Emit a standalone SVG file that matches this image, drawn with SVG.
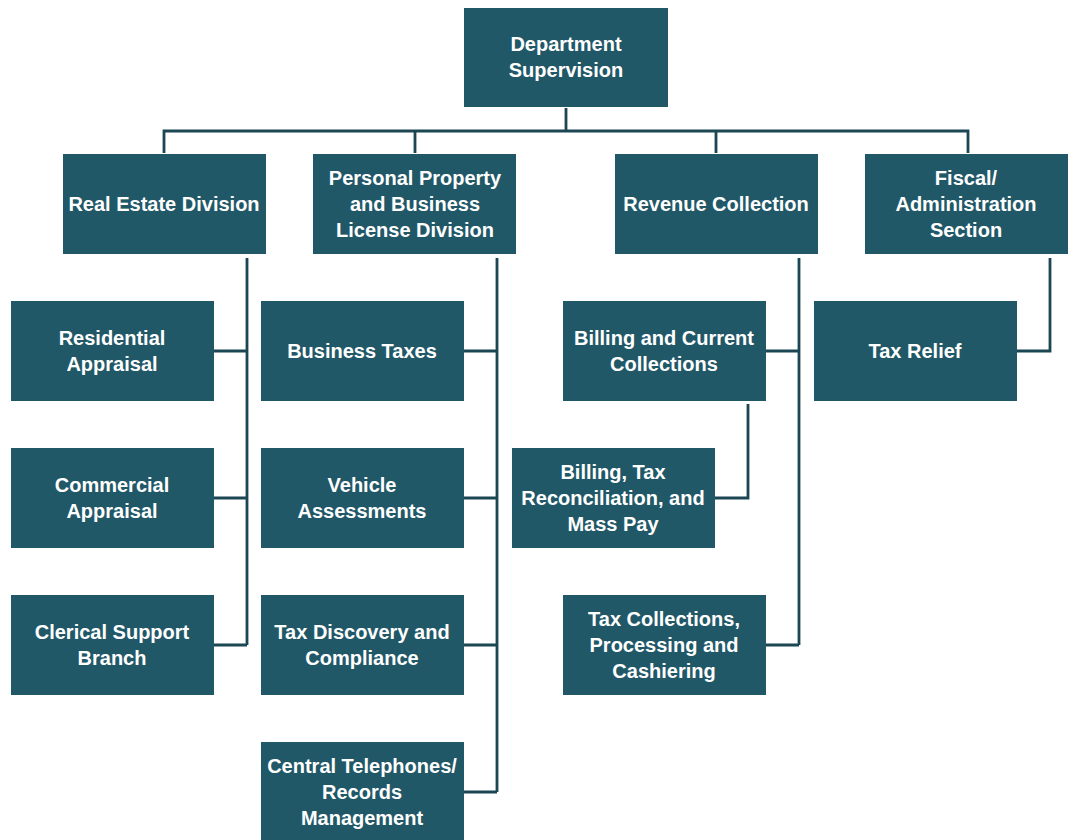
<svg xmlns="http://www.w3.org/2000/svg" width="1068" height="840" viewBox="0 0 1068 840">
<style>
.box{fill:#215867;}
.t{font-family:"Liberation Sans",Arial,sans-serif;font-weight:bold;font-size:20px;fill:#ffffff;text-anchor:middle;}
.c{fill:none;stroke:#1a4753;stroke-width:2.8;}
</style>
<rect width="1068" height="840" fill="#ffffff"/>
<g id="connectors">
<path class="c" d="M566 108V131M164 153V131H968V153M415 131V153M716 131V153"/>
<path class="c" d="M247 258V645M214 351H247M214 498H247M214 645H247"/>
<path class="c" d="M497 258V792M464 351H497M464 498H497M464 645H497M464 792H497"/>
<path class="c" d="M799 258V645M766 351H799M766 645H799"/>
<path class="c" d="M748 404V498H715"/>
<path class="c" d="M1050 258V351H1017"/>
</g>
<g id="n-dept"><rect class="box" x="464" y="8" width="204" height="99"/><text class="t" x="566"><tspan x="566" y="51">Department</tspan><tspan x="566" y="77">Supervision</tspan></text></g>
<g id="n-real"><rect class="box" x="63" y="154" width="203" height="100"/><text class="t" x="164" y="211">Real Estate Division</text></g>
<g id="n-pers"><rect class="box" x="313" y="154" width="203" height="100"/><text class="t"><tspan x="415" y="185">Personal Property</tspan><tspan x="415" y="211">and Business</tspan><tspan x="415" y="237">License Division</tspan></text></g>
<g id="n-rev"><rect class="box" x="615" y="154" width="203" height="100"/><text class="t" x="716" y="211">Revenue Collection</text></g>
<g id="n-fisc"><rect class="box" x="865" y="154" width="203" height="100"/><text class="t"><tspan x="966" y="185">Fiscal/</tspan><tspan x="966" y="211">Administration</tspan><tspan x="966" y="237">Section</tspan></text></g>
<g id="n-res"><rect class="box" x="11" y="301" width="203" height="100"/><text class="t"><tspan x="112" y="345">Residential</tspan><tspan x="112" y="371">Appraisal</tspan></text></g>
<g id="n-com"><rect class="box" x="11" y="448" width="203" height="100"/><text class="t"><tspan x="112" y="492">Commercial</tspan><tspan x="112" y="518">Appraisal</tspan></text></g>
<g id="n-cler"><rect class="box" x="11" y="595" width="203" height="100"/><text class="t"><tspan x="112" y="639">Clerical Support</tspan><tspan x="112" y="665">Branch</tspan></text></g>
<g id="n-bus"><rect class="box" x="261" y="301" width="203" height="100"/><text class="t" x="362" y="358">Business Taxes</text></g>
<g id="n-veh"><rect class="box" x="261" y="448" width="203" height="100"/><text class="t"><tspan x="362" y="492">Vehicle</tspan><tspan x="362" y="518">Assessments</tspan></text></g>
<g id="n-disc"><rect class="box" x="261" y="595" width="203" height="100"/><text class="t"><tspan x="362" y="639">Tax Discovery and</tspan><tspan x="362" y="665">Compliance</tspan></text></g>
<g id="n-tel"><rect class="box" x="261" y="742" width="203" height="100"/><text class="t"><tspan x="362" y="773">Central Telephones/</tspan><tspan x="362" y="799">Records</tspan><tspan x="362" y="825">Management</tspan></text></g>
<g id="n-bill"><rect class="box" x="563" y="301" width="203" height="100"/><text class="t"><tspan x="664" y="345">Billing and Current</tspan><tspan x="664" y="371">Collections</tspan></text></g>
<g id="n-recon"><rect class="box" x="512" y="448" width="203" height="100"/><text class="t"><tspan x="613" y="479">Billing, Tax</tspan><tspan x="613" y="505">Reconciliation, and</tspan><tspan x="613" y="531">Mass Pay</tspan></text></g>
<g id="n-coll"><rect class="box" x="563" y="595" width="203" height="100"/><text class="t"><tspan x="664" y="626">Tax Collections,</tspan><tspan x="664" y="652">Processing and</tspan><tspan x="664" y="678">Cashiering</tspan></text></g>
<g id="n-relief"><rect class="box" x="814" y="301" width="203" height="100"/><text class="t" x="915" y="358">Tax Relief</text></g>
</svg>
